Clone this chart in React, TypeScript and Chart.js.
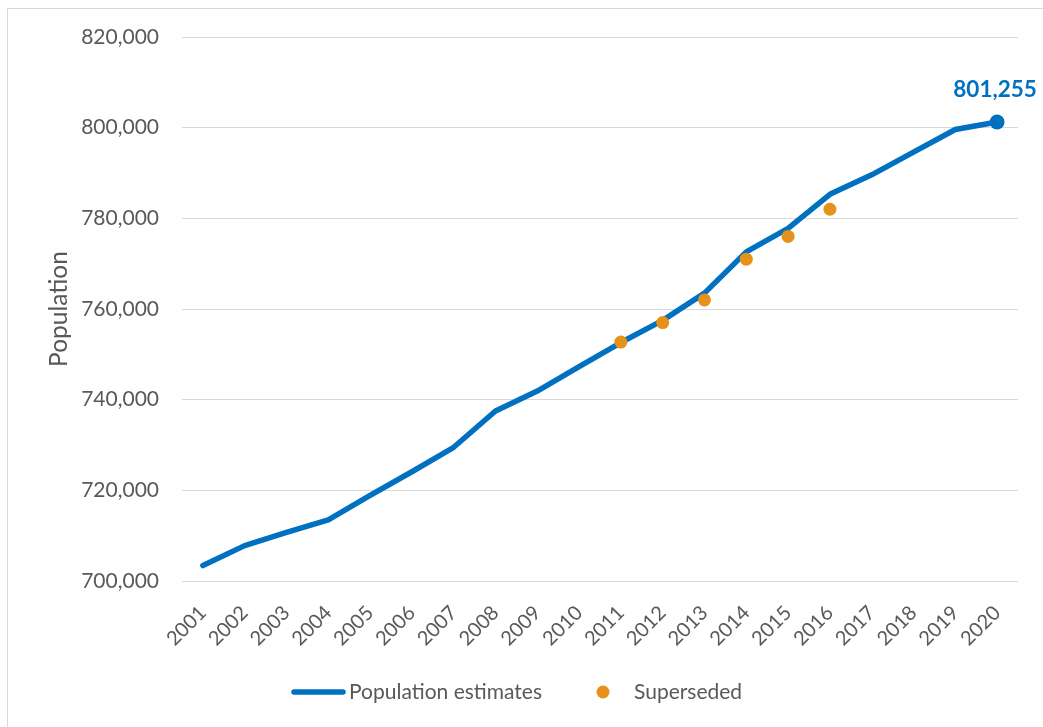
import React, { useEffect, useRef } from 'react';
import { Chart, registerables } from 'chart.js';

Chart.register(...registerables);

const years = ['2001', '2002', '2003', '2004', '2005', '2006', '2007', '2008', '2009', '2010',
  '2011', '2012', '2013', '2014', '2015', '2016', '2017', '2018', '2019', '2020'];

const estimates = [703400, 707800, 710700, 713500, 718900, 724100, 729500, 737500, 741900, 747300,
  752600, 757500, 763500, 772600, 777800, 785300, 789600, 794600, 799600, 801255];

const superseded = [null, null, null, null, null, null, null, null, null, null,
  752700, 757000, 762000, 771000, 776000, 782000, null, null, null, null];

const yMin = 700000;
const yMax = 820000;
const yStep = 20000;

const seriesNames = ['Population estimates', 'Superseded'];
const yTitle = 'Population';

const BLUE = '#0070C0';
const ORANGE = '#E69119';
const GREY_TEXT = '#595959';
const FONT = 'Lato, "Open Sans", sans-serif';

const fmt = (v: number) => Math.round(v).toLocaleString('en-US');

const endLabelPlugin = {
  id: 'endLabel',
  afterDatasetsDraw(chart: any) {
    const meta = chart.getDatasetMeta(0);
    const last = meta.data.length - 1;
    const pt = meta.data[last];
    if (!pt) return;
    const ctx = chart.ctx;
    ctx.save();
    ctx.font = `bold 22.5px ${FONT}`;
    ctx.fillStyle = BLUE;
    ctx.textAlign = 'center';
    ctx.textBaseline = 'alphabetic';
    ctx.fillText(fmt(estimates[last]), pt.x - 2, pt.y - 25);
    ctx.restore();
  },
};

const legendPlugin = {
  id: 'customLegend',
  afterDraw(chart: any) {
    const ctx = chart.ctx;
    const y = 692;
    ctx.save();
    ctx.font = `21px ${FONT}`;
    ctx.fillStyle = GREY_TEXT;
    ctx.textBaseline = 'middle';
    ctx.textAlign = 'left';
    // line sample
    ctx.strokeStyle = BLUE;
    ctx.lineWidth = 5.5;
    ctx.lineCap = 'round';
    ctx.beginPath();
    ctx.moveTo(294, y);
    ctx.lineTo(343, y);
    ctx.stroke();
    ctx.fillText(seriesNames[0], 349, y);
    // dot sample
    ctx.fillStyle = ORANGE;
    ctx.beginPath();
    ctx.arc(603, y, 6.5, 0, Math.PI * 2);
    ctx.fill();
    ctx.fillStyle = GREY_TEXT;
    ctx.fillText(seriesNames[1], 634, y);
    ctx.restore();
  },
};

export default function App() {
  const ref = useRef<HTMLCanvasElement | null>(null);

  useEffect(() => {
    if (!ref.current) return;
    const lastIdx = estimates.length - 1;
    const chart = new Chart(ref.current, {
      type: 'line',
      data: {
        labels: years,
        datasets: [
          {
            label: seriesNames[0],
            data: estimates,
            borderColor: BLUE,
            backgroundColor: BLUE,
            borderWidth: 5.5,
            borderCapStyle: 'round',
            borderJoinStyle: 'round',
            tension: 0,
            pointRadius: (c: any) => (c.dataIndex === lastIdx ? 7.5 : 0),
            pointBackgroundColor: BLUE,
            pointBorderWidth: 0,
            order: 2,
          },
          {
            label: seriesNames[1],
            data: superseded,
            showLine: false,
            borderColor: ORANGE,
            backgroundColor: ORANGE,
            pointRadius: 6.5,
            pointBorderWidth: 0,
            pointBackgroundColor: ORANGE,
            order: 1,
          },
        ],
      },
      options: {
        responsive: false,
        animation: false,
        devicePixelRatio: 1,
        layout: { padding: { top: 37, right: 25, left: 0, bottom: 0 } },
        plugins: {
          legend: { display: false },
          tooltip: { enabled: false },
        },
        scales: {
          x: {
            offset: true,
            grid: { display: false, drawTicks: false },
            border: { display: false },
            ticks: {
              color: GREY_TEXT,
              font: { family: FONT, size: 20 },
              minRotation: 45,
              maxRotation: 45,
              padding: 20,
              autoSkip: false,
            },
            afterFit: (s: any) => { s.height = 146; },
          },
          y: {
            min: yMin,
            max: yMax,
            grid: { color: '#d9d9d9', lineWidth: 1, drawTicks: false },
            border: { display: false },
            ticks: {
              stepSize: yStep,
              color: GREY_TEXT,
              font: { family: FONT, size: 21 },
              padding: 23,
              callback: (v: any) => fmt(Number(v)),
            },
            title: {
              display: true,
              text: yTitle,
              color: GREY_TEXT,
              font: { family: FONT, size: 24.5 },
              padding: { top: 44.3, bottom: 0 },
            },
            afterFit: (s: any) => { s.width = 182; },
          },
        },
      },
      plugins: [endLabelPlugin, legendPlugin],
    } as any);
    return () => chart.destroy();
  }, []);

  return (
    <div style={{ position: 'fixed', left: 0, top: 0, width: 1043, height: 727, background: '#fff', overflow: 'hidden' }}>
      <div style={{ position: 'absolute', left: 7, top: 8, width: 1100, height: 800, borderLeft: '1px solid #d9d9d9', borderTop: '1px solid #d9d9d9' }} />
      <canvas ref={ref} width={1043} height={727} style={{ position: 'absolute', left: 0, top: 0, display: 'block' }} />
    </div>
  );
}
